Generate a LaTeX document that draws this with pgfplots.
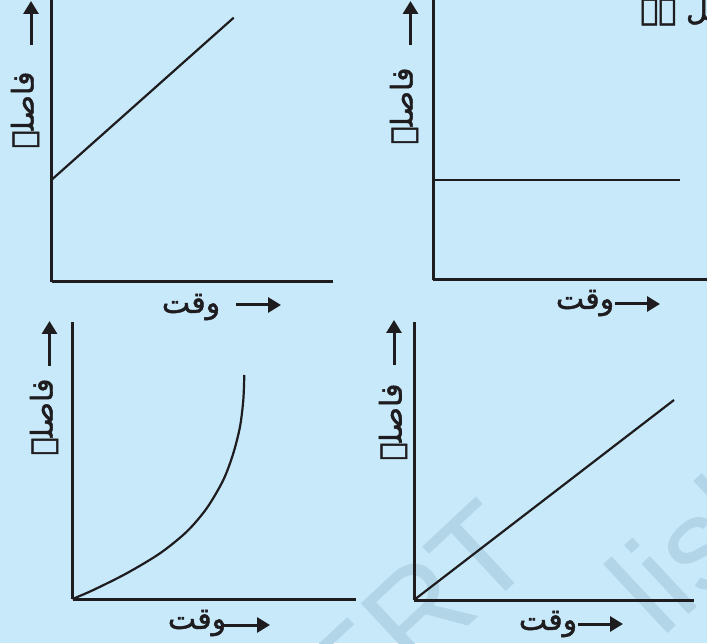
\documentclass[border=0pt]{standalone}
\usepackage{fontspec}
\usepackage{pgfplots}
\pgfplotsset{compat=1.18}
\usetikzlibrary{arrows.meta}
\TeXXeTstate=1
\newfontfamily\urdu[Script=Arabic, FakeBold=1.6]{DejaVu Sans}
\newfontfamily\wmfont{Liberation Sans}

\definecolor{bgblue}{RGB}{199,233,249}
\definecolor{wmblue}{RGB}{178,213,231}
\definecolor{ink}{RGB}{30,28,30}

\pgfplotsset{
  panel/.style={
    overlay,
    x=0.5pt, y=0.5pt, anchor=origin,
    axis x line*=bottom, axis y line*=left,
    xtick=\empty, ytick=\empty,
    xmin=0, ymin=0,
    axis line style={line width=1.5pt, draw=ink},
    clip=false,
  },
  curve/.style={ink, line width=1.1pt, no marks},
}

\newcommand{\ur}[1]{{\urdu\beginR #1\endR}}

\begin{document}
\begin{tikzpicture}[x=0.5pt, y=0.5pt,
  uparrow/.style={ink, line width=1.5pt, -{Triangle[length=6.5pt,width=7.5pt]}},
  lab/.style={font=\fontsize{15}{17}\selectfont, inner sep=0pt, text=ink}]
\fill[bgblue] (0,0) rectangle (707,643);

\begin{scope}[overlay]
% watermark
\node[wmblue, font=\wmfont\fontsize{65}{70}\selectfont, rotate=43, anchor=base east, inner sep=0pt]
  at (540,83) {NCERT};
\node[wmblue, font=\wmfont\fontsize{65}{70}\selectfont, rotate=43, anchor=base west, inner sep=0pt]
  at (661,3) {lished};
\end{scope}

% top left: straight line, not through origin
\begin{axis}[panel, at={(51.7,361.3)}, xmax=281, ymax=290]
  \addplot[curve] coordinates {(0,102) (182,264)};
\end{axis}
% top right: constant distance
\begin{axis}[panel, at={(433,363)}, xmax=290, ymax=290]
  \addplot[curve] coordinates {(0,100) (247,100)};
\end{axis}
% bottom left: accelerating curve
\begin{axis}[panel, at={(72.5,44)}, xmax=283, ymax=277]
  \addplot[curve, smooth] coordinates {
    (0,0) (20.8,9) (54.2,25.7) (87.5,45.7) (114.2,67.3) (134.2,90.7)
    (150.8,119) (160.8,145.7) (167.5,172.3) (170.8,199) (171.8,224)};
\end{axis}
% bottom right: straight line through origin
\begin{axis}[panel, at={(414,43)}, xmax=280, ymax=278]
  \addplot[curve] coordinates {(0,0) (260,200)};
\end{axis}

\begin{scope}[overlay]
\draw[uparrow] (31,598) -- (31,642);
\node[lab, rotate=90] at (25,533) {\ur{فاصلہ}};
\node[lab] at (191,336) {\ur{وقت}};
\draw[uparrow] (236,338) -- (281,338);

\draw[uparrow] (410.5,598) -- (410.5,642);
\node[lab, rotate=90] at (404,537) {\ur{فاصلہ}};
\node[lab] at (585,340) {\ur{وقت}};
\draw[uparrow] (615,339) -- (660,339);
\node[lab, anchor=base west] at (640,623) {\ur{مستقل ہے}};

\draw[uparrow] (49.5,277) -- (49.5,322);
\node[lab, rotate=90] at (44,226) {\ur{فاصلہ}};
\node[lab] at (197,20) {\ur{وقت}};
\draw[uparrow] (223,18) -- (270,18);

\draw[uparrow] (394,278) -- (394,323);
\node[lab, rotate=90] at (393,221) {\ur{فاصلہ}};
\node[lab] at (548,19) {\ur{وقت}};
\draw[uparrow] (578,19) -- (623,19);
\end{scope}
\end{tikzpicture}
\end{document}
